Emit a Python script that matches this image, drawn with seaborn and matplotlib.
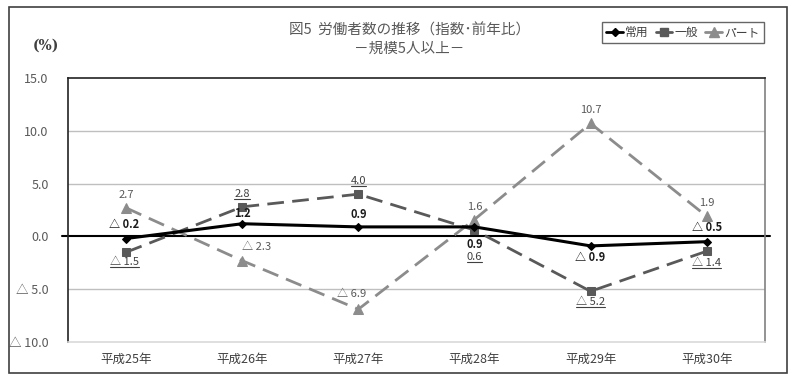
import numpy as np
import pandas as pd
import seaborn as sns
import matplotlib
matplotlib.use("Agg")
import matplotlib.pyplot as plt
from matplotlib.lines import Line2D
from matplotlib.patches import Rectangle

# データ（前年比 %）
years = ['平成25年', '平成26年', '平成27年', '平成28年', '平成29年', '平成30年']
jouyou = [-0.2, 1.2, 0.9, 0.9, -0.9, -0.5]
ippan = [-1.5, 2.8, 4.0, 0.6, -5.2, -1.4]
part = [2.7, -2.3, -6.9, 1.6, 10.7, 1.9]
yticks = [-10, -5, 0, 5, 10, 15]

# ラベルの位置（ピクセル単位のずらし）
off_jouyou = [(-2, 14), (0, 10), (0, 12), (0, -18), (0, -12), (0, 14)]
off_ippan = [(-2, -10), (0, 13), (0, 13), (0, -27), (0, -11), (0, -12)]
off_part = [(0, 13), (14, 14), (-7, 15), (0, 13), (0, 13), (0, 13)]

sns.set_style('white')
plt.rcParams['font.family'] = ['Noto Sans CJK JP', 'DejaVu Sans']

def fmt(v):
    return '△ %.1f' % abs(v) if v < 0 else '%.1f' % v

df = pd.DataFrame({'x': np.arange(len(years)), '常用': jouyou, '一般': ippan, 'パート': part})

fig = plt.figure(figsize=(8, 3.87), dpi=100)
ax = fig.add_axes([0.085, 0.1163, 0.871, 0.6821])

series = [
    ('パート', '#8c8c8c', '^', 7, (6, 3), off_part, '#595959', 'normal', False),
    ('一般', '#595959', 's', 6, (6, 3), off_ippan, '#404040', 'normal', True),
    ('常用', '#000000', 'D', 4, None, off_jouyou, '#1a1a1a', 'bold', False),
]

underlined = []
for name, col, mk, ms, dash, offs, tcol, tw, ul in series:
    sns.lineplot(data=df, x='x', y=name, ax=ax, color=col, marker=mk, markersize=ms,
                 markeredgecolor=col, linewidth=2 if dash else 2.2, zorder=3)
    if dash:
        ax.lines[-1].set_dashes(dash)
    for xi, v, (dx, dy) in zip(df['x'], df[name], offs):
        t = ax.annotate(fmt(v), (xi, v), xytext=(dx, dy), textcoords='offset pixels',
                        ha='center', va='center', fontsize=8, color=tcol,
                        fontweight=tw, zorder=5)
        if ul:
            underlined.append(t)

ax.set_xlim(-0.5, len(years) - 0.5)
ax.set_ylim(-10, 15)
ax.set_xticks(df['x'])
ax.set_xticklabels(years, fontsize=9, color='#404040')
ax.set_yticks(yticks)
ax.set_yticklabels([fmt(v) for v in yticks], fontsize=9, color='#595959')
ax.tick_params(axis='y', pad=14, length=0)
ax.tick_params(axis='x', pad=8, length=0)
ax.set_xlabel('')
ax.set_ylabel('')
for v in [-5, 5, 10]:
    ax.axhline(v, color='#bfbfbf', linewidth=1, zorder=1)
ax.plot([-0.008, 1.008], [0, 0], transform=ax.get_yaxis_transform(), color='black',
        linewidth=1.5, clip_on=False, zorder=2)
ax.spines['left'].set_color('#222222')
ax.spines['top'].set_color('#222222')
ax.spines['right'].set_color('#808080')
ax.spines['bottom'].set_color('#d9d9d9')
for s in ax.spines.values():
    s.set_linewidth(1.2)

# 凡例
handles = [
    Line2D([], [], color='#000000', marker='D', markersize=4, linewidth=2),
    Line2D([], [], color='#595959', marker='s', markersize=6, linewidth=2),
    Line2D([], [], color='#8c8c8c', marker='^', markersize=7, linewidth=2),
]
leg = fig.legend(handles, ['常用', '一般', 'パート'], loc='upper right',
                 bbox_to_anchor=(0.962, 0.958), ncol=3, fontsize=8.5, frameon=True,
                 fancybox=False, edgecolor='#404040', handlelength=1.4,
                 handletextpad=0.2, columnspacing=0.6, borderpad=0.35)
leg.get_frame().set_linewidth(1.0)
for t in leg.get_texts():
    t.set_color('#404040')

fig.text(0.512, 0.922, '図5  労働者数の推移（指数･前年比）', ha='center', va='center',
         fontsize=10.5, color='#595959')
fig.text(0.512, 0.874, '－規模5人以上－', ha='center', va='center',
         fontsize=10.5, color='#595959')
fig.text(0.058, 0.883, '(%)', ha='center', va='center', fontsize=10,
         color='#404040', fontweight='bold', family=['DejaVu Serif'])

fig.patches.append(Rectangle((0.011, 0.036), 0.973, 0.946, transform=fig.transFigure,
                             fill=False, edgecolor='#404040', linewidth=1.2))

# 一般のラベルに下線
fig.canvas.draw()
inv = fig.transFigure.inverted()
for t in underlined:
    bb = t.get_window_extent()
    (x0, y0), (x1, _) = inv.transform([(bb.x0, bb.y0), (bb.x1, bb.y1)])
    fig.add_artist(Line2D([x0, x1], [y0, y0], transform=fig.transFigure,
                          color='#404040', linewidth=0.8))

fig.savefig('out.png', dpi=100)
